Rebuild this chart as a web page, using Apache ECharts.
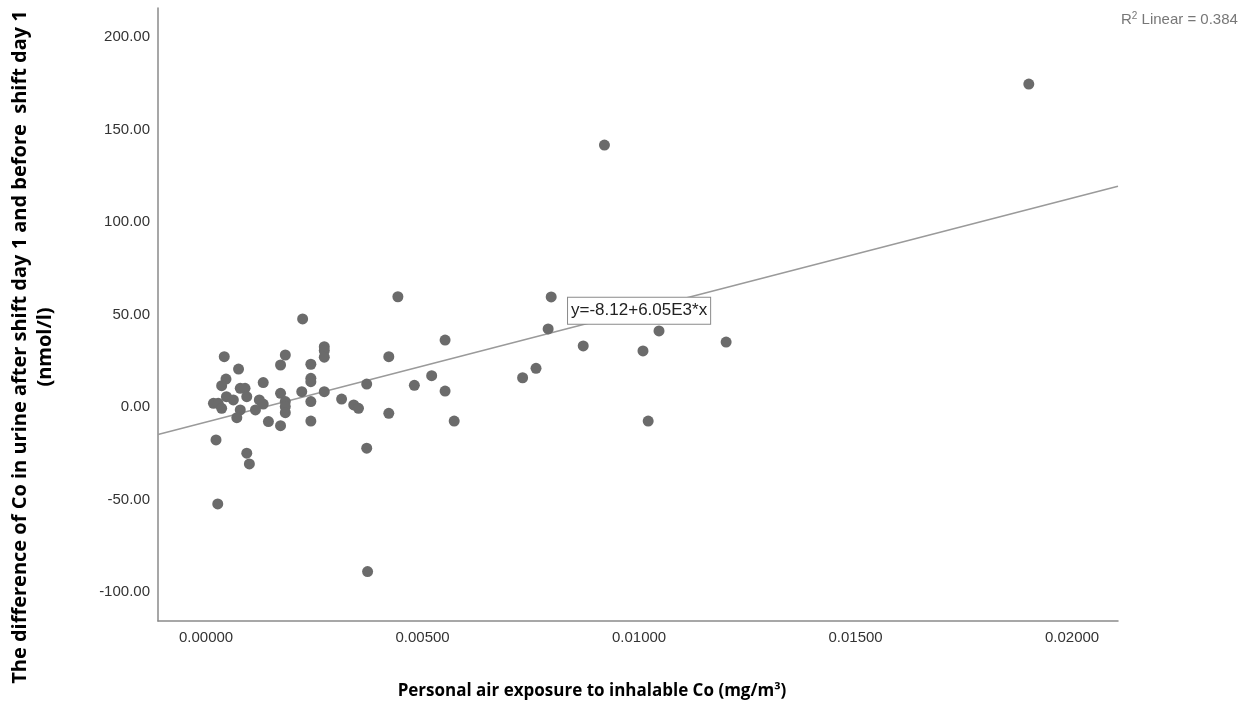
<!DOCTYPE html>
<html><head><meta charset="utf-8">
<script src="https://cdn.jsdelivr.net/npm/echarts@6/dist/echarts.min.js"></script>
<style>html,body{margin:0;padding:0;background:#fff}#c{width:1251px;height:713px}</style>
</head><body><div id="c"></div>
<script>
// Observed data: personal air exposure (mg/m3) vs difference of Co in urine (nmol/l)
var exposure = [0.0190,0.00920,0.00797,0.00443,0.00223,0.00790,0.01046,0.00552,0.01201,0.00871,0.01009,0.00273,0.00273,0.00273,0.00183,0.00172,0.00242,0.00422,0.00042,0.00075,0.00046,0.00036,0.00079,0.00090,0.00094,0.00132,0.00242,0.00242,0.00221,0.00273,0.00172,0.00371,0.00521,0.00481,0.00552,0.00731,0.00762,0.00242,0.00183,0.00183,0.00183,0.00123,0.00132,0.00114,0.00313,0.00341,0.00352,0.00422,0.00144,0.00172,0.00242,0.00573,0.01021,0.00371,0.00094,0.00100,0.00023,0.00027,0.00373,0.00017,0.00028,0.00047,0.00063,0.00036,0.00079,0.00071];
var urineDiff = [174.6,141.6,59.5,59.6,47.6,42.2,41.1,36.2,35.1,33.0,30.3,32.6,30.5,26.9,28.1,22.7,23.1,27.2,27.2,20.5,15.1,11.5,10.1,10.1,5.6,13.2,15.5,13.7,8.3,8.3,7.4,12.4,16.9,11.7,8.6,15.8,20.9,2.9,2.9,0.2,-3.1,3.8,1.6,-1.6,4.3,1.1,-0.7,-3.4,-7.9,-10.1,-7.6,-7.6,-7.6,-22.3,-25.0,-30.8,-17.8,-52.4,-89.0,2.0,2.0,5.6,3.8,-0.7,-1.6,-5.8];
var xTicks = [0, 0.005, 0.01, 0.015, 0.02];
var yTicks = [-100, -50, 0, 50, 100, 150, 200];
var fitIntercept = -8.12, fitSlope = 6050;
var xMin = -0.00111, xMax = 0.02106, yMin = -115.7, yMax = 215.7;
var fitLabel = 'y=-8.12+6.05E3*x';
var r2Text = '0.384';

var pts = exposure.map(function(x,i){return [x, urineDiff[i]];});
var fitLine = [[xMin, fitIntercept + fitSlope*xMin],[xMax, fitIntercept + fitSlope*xMax]];

var chart = echarts.init(document.getElementById('c'), null, {renderer:'canvas'});
chart.setOption({
  animation:false,
  grid:{left:158,right:133,top:8,bottom:92},
  xAxis:{type:'value',min:xMin,max:xMax,splitLine:{show:false},
    axisLine:{show:true,onZero:false,lineStyle:{color:'#8a8a8a',width:1.5}},
    axisTick:{show:false},
    axisLabel:{customValues:xTicks,formatter:function(v){return v.toFixed(5);},
      color:'#333',fontFamily:'Liberation Sans',fontSize:15,margin:9}},
  yAxis:{type:'value',min:yMin,max:yMax,splitLine:{show:false},
    axisLine:{show:true,onZero:false,lineStyle:{color:'#8a8a8a',width:1.5}},
    axisTick:{show:false},
    axisLabel:{customValues:yTicks,formatter:function(v){return v.toFixed(2);},
      color:'#333',fontFamily:'Liberation Sans',fontSize:15,margin:8,padding:[3,0,0,0]}},
  series:[
    {type:'line',data:fitLine,symbol:'none',silent:true,z:1,
     lineStyle:{color:'#9a9a9a',width:1.5},
     markPoint:{symbol:'rect',symbolSize:1,itemStyle:{color:'transparent'},
       data:[{coord:[0.01000,52.0]}],
       label:{show:true,position:'inside',formatter:fitLabel,color:'#222',
         fontFamily:'Liberation Sans',fontSize:17,backgroundColor:'#fff',
         borderColor:'#8a8a8a',borderWidth:1,padding:[5,3,4,3]}}},
    {type:'scatter',data:pts,symbolSize:11,z:3,itemStyle:{color:'#6b6b6b',opacity:1}}
  ],
  graphic:[
    {type:'text',left:1121,top:11,style:{
      rich:{n:{fontFamily:'Liberation Sans',fontSize:15,fill:'#777'},
            s:{fontFamily:'Liberation Sans',fontSize:10,fill:'#777',verticalAlign:'top',padding:[0,0,7,0]}},
      text:'{n|R}{s|2}{n| Linear = '+r2Text+'}'}},
    {type:'text',x:592,y:691,style:{text:'Personal air exposure to inhalable Co (mg/m³)',
      font:'bold 17px "Open Sans"',fill:'#000',align:'center',verticalAlign:'middle'}},
    {type:'text',x:20,y:347,rotation:Math.PI/2,style:{text:'The difference of Co in urine after shift day 1 and before  shift day 1',
      font:'bold 20px "Open Sans"',fill:'#000',align:'center',verticalAlign:'middle'}},
    {type:'text',x:45,y:347,rotation:Math.PI/2,style:{text:'(nmol/l)',
      font:'bold 20px "Open Sans"',fill:'#000',align:'center',verticalAlign:'middle'}}
  ]
});
</script></body></html>
